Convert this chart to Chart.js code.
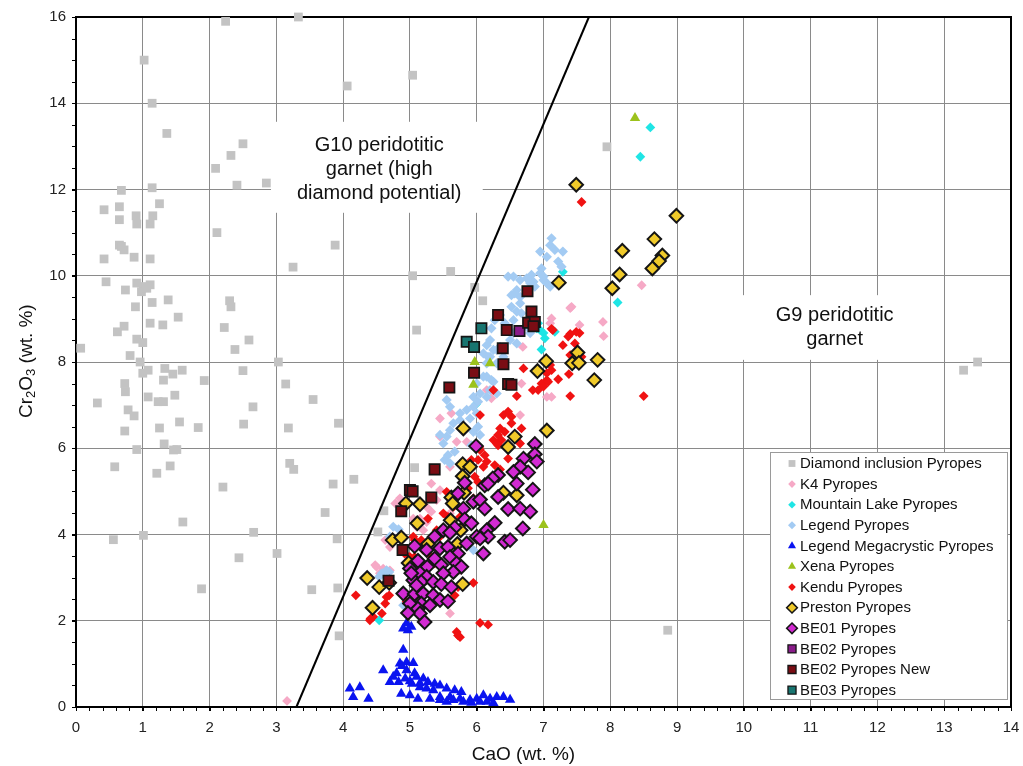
<!DOCTYPE html>
<html><head><meta charset="utf-8">
<script src="https://cdn.jsdelivr.net/npm/chart.js@4.4.0/dist/chart.umd.min.js"></script>
<style>html,body{margin:0;padding:0;background:#fff}canvas{display:block}</style>
</head><body>
<canvas id="c" width="1023" height="766"></canvas>
<script>
// ---------------- DATA (CaO wt.%, Cr2O3 wt.%) ----------------
const xTickValues = [0,1,2,3,4,5,6,7,8,9,10,11,12,13,14];
const yTickValues = [0,2,4,6,8,10,12,14,16];
const xTitle = 'CaO (wt. %)';
const seriesLabels = ['Diamond inclusion Pyropes','K4 Pyropes','Mountain Lake Pyropes','Legend Pyropes',
  'Legend Megacrystic Pyropes','Xena Pyropes','Kendu Pyropes','Preston Pyropes','BE01 Pyropes',
  'BE02 Pyropes','BE02 Pyropes New','BE03 Pyropes'];
const g10Text = ['G10 peridotitic','garnet (high','diamond potential)'];
const g9Text = ['G9 peridotitic','garnet'];

const diamondPts = [[2.24,15.9],[3.33,16.0],[1.02,15.0],[1.14,14.0],[1.36,13.3],[2.50,13.06],[2.32,12.79],[2.09,12.49],
[2.41,12.1],[2.85,12.15],[0.68,11.98],[1.14,12.04],[1.25,11.67],[0.42,11.53],[0.65,11.6],[0.65,11.3],[0.90,11.39],
[0.91,11.2],[1.11,11.2],[1.15,11.39],[2.11,11.0],[3.88,10.71],[0.65,10.71],[0.68,10.68],[0.72,10.6],[0.42,10.39],
[0.87,10.43],[1.11,10.39],[3.25,10.2],[0.45,9.86],[0.74,9.67],[0.91,9.83],[1.01,9.75],[1.11,9.79],[0.98,9.63],
[1.06,9.71],[1.14,9.38],[1.38,9.44],[0.89,9.28],[1.53,9.04],[1.11,8.9],[1.30,8.86],[0.72,8.83],[0.62,8.70],
[0.07,8.32],[0.91,8.53],[1.00,8.45],[0.81,8.15],[0.96,8.0],[1.00,7.74],[1.08,7.81],[1.33,7.85],[1.45,7.72],
[1.59,7.81],[1.31,7.58],[0.73,7.5],[0.74,7.31],[1.08,7.19],[1.23,7.08],[1.31,7.08],[1.48,7.23],[0.32,7.05],
[0.78,6.89],[0.87,6.75],[0.73,6.4],[1.25,6.47],[1.55,6.61],[1.83,6.48],[1.92,7.57],[1.32,6.1],[1.46,5.96],
[1.51,5.97],[0.91,5.97],[0.58,5.57],[1.21,5.42],[1.41,5.59],[2.30,9.42],[2.32,9.28],[2.22,8.8],[2.38,8.29],
[2.59,8.51],[3.03,8.0],[2.50,7.8],[3.14,7.49],[3.55,7.13],[2.65,6.96],[2.51,6.56],[3.18,6.47],[3.93,6.58],
[3.20,5.65],[3.26,5.51],[2.20,5.1],[3.85,5.17],[0.56,3.88],[1.01,3.98],[1.60,4.29],[2.66,4.05],[2.44,3.46],
[3.01,3.56],[1.88,2.74],[3.53,2.72],[3.92,2.76],[3.73,4.51],[3.91,3.90],[3.94,1.65],[4.06,14.4],[5.04,14.65],
[4.16,5.28],[4.61,4.55],[4.52,4.06],[5.07,5.55],[5.04,10.0],[5.61,10.1],[5.97,9.73],[6.09,9.42],[5.10,8.74],
[7.95,12.99],[8.86,1.78],[13.29,7.81],[13.50,8.0]];

const k4Pts = [[3.16,0.14],[8.47,9.78],[7.89,8.93],[7.90,8.60],[7.42,9.28],[7.12,9.01],[7.10,8.90],[7.54,8.86],
[6.69,8.35],[7.05,7.19],[7.40,9.25],[6.67,7.50],[7.12,7.19],[6.15,7.35],[6.22,7.16],[6.65,6.77],[5.45,6.69],
[5.62,6.81],[5.45,6.27],[5.70,6.15],[5.85,6.15],[5.60,5.57],[5.32,5.18],[5.45,5.03],[5.40,4.80],[5.25,4.64],
[5.32,4.53],[5.15,4.37],[5.25,4.29],[5.05,4.37],[5.60,4.49],[4.78,4.72],[4.85,4.84],[5.10,4.18],[5.20,4.10],
[4.63,3.87],[4.70,3.71],[4.48,3.29],[4.60,3.21],[5.75,3.17],[5.60,2.17],[4.50,3.25],[4.70,3.17],[4.55,3.10]];

const mountainLakePts = [[8.60,13.44],[8.45,12.76],[8.11,9.38],[7.29,10.09],[6.95,8.74],[7.00,8.67],[6.90,8.78],
[6.97,8.29],[5.99,7.02],[7.17,8.70],[4.54,2.01],[6.80,8.97],[6.92,8.90],[7.02,8.55]];

const legendPts = [[7.12,10.87],[7.10,10.71],[7.17,10.60],[7.05,10.44],[6.95,10.56],[7.29,10.56],[7.22,10.33],
[7.27,10.21],[6.97,10.17],[6.95,10.06],[7.00,9.90],[7.05,9.83],[6.82,10.02],[6.75,9.94],[6.80,9.83],[6.87,9.75],
[6.65,9.90],[6.55,9.98],[6.47,9.98],[6.60,9.67],[6.65,9.51],[6.52,9.55],[7.10,9.75],[6.52,9.28],[6.60,9.17],
[6.67,9.13],[6.55,8.97],[6.35,9.09],[6.42,8.90],[6.27,8.97],[6.75,8.82],[6.80,8.67],[6.55,8.67],[6.50,8.51],
[6.60,8.43],[6.35,8.35],[6.25,8.28],[6.40,8.12],[6.20,8.51],[6.17,8.12],[6.10,8.20],[6.22,7.58],[6.10,7.66],
[6.85,9.86],[7.00,9.98],[6.57,9.59],[6.65,9.36],[6.22,8.78],[6.15,8.39],[6.30,8.28],[6.20,8.12],[6.30,7.97],
[6.15,7.97],[6.15,7.66],[6.25,7.54],[6.20,7.35],[6.30,7.27],[6.15,7.19],[6.00,7.50],[6.05,7.27],[5.95,7.19],
[6.02,7.08],[5.95,6.96],[5.85,6.89],[6.00,6.81],[5.75,6.81],[5.65,6.58],[5.60,6.42],[5.75,6.65],[5.55,6.27],
[5.45,6.31],[5.50,6.11],[6.02,6.50],[5.95,6.38],[6.05,6.31],[5.90,6.69],[5.92,6.07],[5.57,5.84],[5.67,5.92],
[5.52,5.73],[5.60,5.65],[5.95,3.64],[4.75,4.18],[4.83,4.12],[4.69,3.13],[4.54,3.02],[4.90,2.36],[4.70,3.95],
[4.78,3.87],[4.58,3.10],[4.65,3.17],[5.55,7.12],[5.60,6.96]];

const megacrysticPts = [[4.90,1.33],[4.60,0.85],[4.85,1.01],[4.95,1.04],[5.05,1.02],[4.80,0.78],[4.95,0.85],
[5.07,0.78],[5.20,0.66],[4.70,0.58],[4.83,0.58],[4.93,0.66],[5.03,0.54],[5.27,0.58],[5.37,0.54],[5.45,0.50],
[5.15,0.46],[5.25,0.43],[5.35,0.39],[5.55,0.43],[5.67,0.39],[5.77,0.35],[4.87,0.31],[5.00,0.27],[5.12,0.19],
[5.30,0.19],[5.45,0.23],[5.60,0.23],[5.75,0.19],[5.90,0.16],[6.00,0.19],[6.10,0.27],[6.20,0.19],[6.30,0.23],
[6.40,0.23],[6.50,0.17],[4.10,0.43],[4.25,0.46],[4.15,0.23],[4.38,0.19],[5.45,0.16],[5.55,0.12],[5.65,0.16],
[5.80,0.12],[5.92,0.10],[6.05,0.12],[6.15,0.12],[6.25,0.09],[4.95,1.94],[5.02,1.86],[4.90,1.82],[4.97,1.78],
[4.88,0.95],[5.10,0.70],[4.75,0.70],[5.00,0.60],[5.15,0.55]];

const xenaPts = [[8.37,13.66],[5.97,8.0],[6.20,7.97],[5.95,7.47],[7.00,4.22]];

const kenduPts = [[7.57,11.71],[7.12,8.77],[7.40,8.65],[7.49,8.70],[7.54,8.67],[7.37,8.59],[7.29,8.39],[7.47,8.43],
[7.40,8.16],[7.57,8.12],[6.70,7.85],[7.12,7.81],[7.10,7.93],[7.22,7.60],[7.38,7.72],[6.84,7.35],[6.97,7.50],
[7.05,7.58],[6.25,7.35],[6.60,7.21],[7.40,7.21],[8.50,7.21],[7.14,8.74],[7.05,7.74],[7.07,7.54],[7.00,7.43],
[6.92,7.35],[6.47,6.85],[6.52,6.73],[6.40,6.77],[6.05,6.77],[6.67,6.46],[6.35,6.46],[6.42,6.38],[6.32,6.31],
[6.37,6.19],[6.52,6.58],[6.25,6.19],[6.30,6.11],[6.04,6.03],[6.65,6.11],[6.05,5.96],[6.12,5.84],[6.02,5.73],
[6.15,5.69],[6.10,5.57],[6.27,5.61],[6.35,5.51],[6.47,5.76],[6.45,6.03],[6.32,6.07],[5.92,5.73],[5.97,5.34],
[6.02,5.22],[5.87,5.07],[5.95,4.84],[5.55,4.99],[5.65,4.64],[5.50,4.49],[5.57,4.41],[5.75,4.41],[5.27,4.37],
[5.45,3.95],[5.40,4.10],[5.05,3.95],[5.17,3.87],[5.07,3.71],[5.20,3.64],[5.30,3.52],[5.37,3.33],[4.92,3.56],
[5.00,3.48],[5.05,3.29],[5.07,3.13],[5.95,2.88],[5.72,2.78],[5.67,2.59],[4.65,2.55],[4.69,2.59],[4.63,2.40],
[4.58,2.17],[4.45,2.09],[4.41,2.05],[4.19,2.59],[5.07,2.55],[4.95,2.44],[6.05,1.95],[6.17,1.91],[5.70,1.74],
[5.75,1.62],[5.72,1.66],[4.40,2.01],[5.07,3.87],[5.07,3.48]];

const prestonPts = [[7.49,12.11],[8.99,11.39],[8.66,10.85],[8.18,10.58],[8.78,10.47],[8.73,10.34],[8.63,10.17],
[8.14,10.03],[8.03,9.71],[7.23,9.84],[7.51,8.22],[7.43,7.97],[7.53,7.98],[7.81,8.05],[7.76,7.58],[7.04,8.02],
[6.91,7.79],[5.80,6.46],[6.57,6.27],[7.05,6.41],[6.47,6.03],[5.79,5.63],[5.90,5.57],[5.79,5.35],[4.94,4.72],
[5.15,4.70],[5.62,4.86],[5.81,4.97],[5.64,4.72],[6.40,4.97],[6.60,4.91],[5.11,4.26],[5.61,4.33],[5.76,4.10],
[4.74,3.87],[4.87,3.93],[5.27,3.78],[5.71,3.78],[4.98,3.34],[4.36,2.99],[4.54,2.78],[4.69,2.88],[5.79,2.85],
[4.44,2.30]];

const be01Pts = [[5.99,6.05],[6.87,6.10],[6.87,5.86],[6.70,5.76],[6.90,5.69],[6.65,5.57],[6.77,5.44],[6.55,5.45],
[6.32,5.38],[6.24,5.30],[5.82,5.20],[6.12,5.14],[6.17,5.18],[6.60,5.18],[6.84,5.04],[5.72,4.95],[6.32,4.87],
[5.95,4.76],[6.05,4.81],[6.12,4.60],[5.80,4.60],[6.47,4.59],[6.65,4.60],[6.80,4.53],[5.82,4.35],[5.92,4.26],
[6.27,4.27],[5.67,4.16],[6.69,4.14],[6.15,4.10],[5.50,4.10],[5.60,4.04],[5.37,3.95],[6.00,3.95],[6.17,3.95],
[5.45,3.68],[5.57,3.71],[5.85,3.79],[6.05,3.91],[6.42,3.83],[6.50,3.87],[5.07,3.73],[5.25,3.64],[5.72,3.56],
[6.10,3.56],[5.60,3.48],[5.37,3.44],[5.12,3.39],[5.70,3.33],[5.77,3.25],[5.47,3.29],[5.26,3.25],[5.00,3.21],
[5.65,3.13],[5.15,3.11],[5.25,3.02],[5.50,3.10],[5.05,2.94],[5.17,2.90],[5.35,2.90],[5.47,2.85],[5.62,2.78],
[4.90,2.63],[5.07,2.62],[5.20,2.63],[5.35,2.59],[5.45,2.48],[5.17,2.40],[5.30,2.36],[5.57,2.45],[5.00,2.40],
[5.12,2.28],[5.15,2.17],[4.97,2.18],[5.22,1.97],[5.02,3.10],[5.10,2.82]];

const be02Pts = [[6.64,8.72]];

const be02NewPts = [[6.76,9.64],[6.32,9.09],[6.82,9.17],[6.77,8.91],[6.87,8.93],[6.85,8.83],[6.45,8.74],[6.39,8.32],
[6.40,7.95],[5.96,7.75],[6.47,7.49],[6.52,7.47],[5.59,7.41],[5.37,5.51],[5.00,5.03],[5.32,4.86],[4.87,4.54],
[4.89,3.64],[4.68,2.93],[5.04,5.00]];

const be03Pts = [[6.07,8.78],[5.85,8.47],[5.96,8.35]];

// G10 / G9 boundary line
const lineCaO = [3.30, 7.68];
const lineCr = [0, 16];

// ---------------- STYLES ----------------
const FONT = '"Liberation Sans", Arial, Helvetica, sans-serif';
const seriesPts = [diamondPts,k4Pts,mountainLakePts,legendPts,megacrysticPts,xenaPts,kenduPts,prestonPts,be01Pts,be02Pts,be02NewPts,be03Pts];
const styles = [
  {ps:'rect', r:6.2, bg:'#c3c3c3', bc:'#c3c3c3', bw:0},
  {ps:'rectRot', r:4.9, bg:'#f6a9c6', bc:'#f6a9c6', bw:0},
  {ps:'rectRot', r:4.9, bg:'#1fe5e5', bc:'#1fe5e5', bw:0},
  {ps:'rectRot', r:5.1, bg:'#a3cbf3', bc:'#a3cbf3', bw:0},
  {ps:'triangle', r:6.0, bg:'#0a14f0', bc:'#0a14f0', bw:0},
  {ps:'triangle', r:6.0, bg:'#9cc21c', bc:'#9cc21c', bw:0},
  {ps:'rectRot', r:4.9, bg:'#f01212', bc:'#f01212', bw:0},
  {ps:'rectRot', r:6.8, bg:'#f0ca2a', bc:'#151515', bw:2},
  {ps:'rectRot', r:6.8, bg:'#d22ad2', bc:'#151515', bw:2},
  {ps:'rect', r:7.3, bg:'#8a1c8a', bc:'#151515', bw:1.7},
  {ps:'rect', r:7.3, bg:'#7a0d14', bc:'#151515', bw:1.7},
  {ps:'rect', r:7.3, bg:'#187570', bc:'#151515', bw:1.7}
];

const datasets = seriesPts.map((pts,i)=>({
  label: seriesLabels[i],
  data: pts.map(p=>({x:p[0], y:p[1]})),
  pointStyle: styles[i].ps, pointRadius: styles[i].r, pointHoverRadius: styles[i].r,
  backgroundColor: styles[i].bg, borderColor: styles[i].bc, borderWidth: styles[i].bw,
  pointBorderWidth: styles[i].bw, order: 20 - i, clip: false, showLine: false
}));
datasets.push({
  label: 'G10/G9 boundary',
  data: lineCaO.map((v,i)=>({x:v, y:lineCr[i]})),
  showLine: true, borderColor:'#000', borderWidth:2, pointRadius:0, order:0, clip:false
});

function drawMarker(ctx, s, x, y, scale){
  const r = s.r*scale;
  ctx.beginPath();
  if (s.ps==='rect'){ const h=Math.SQRT1_2*r; ctx.rect(x-h,y-h,2*h,2*h); }
  else if (s.ps==='rectRot'){ ctx.moveTo(x,y-r); ctx.lineTo(x+r,y); ctx.lineTo(x,y+r); ctx.lineTo(x-r,y); ctx.closePath(); }
  else { const a=2*Math.PI/3; ctx.moveTo(x, y-r); ctx.lineTo(x+Math.sin(a)*r, y-Math.cos(a)*r); ctx.lineTo(x+Math.sin(2*a)*r, y-Math.cos(2*a)*r); ctx.closePath(); }
  ctx.fillStyle=s.bg; ctx.fill();
  if (s.bw>0){ ctx.lineWidth=s.bw*scale; ctx.strokeStyle=s.bc; ctx.stroke(); }
}

const decor = {
  id:'decor',
  beforeDatasetsDraw(chart){
    const {ctx, chartArea:a, scales:{x,y}} = chart;
    ctx.save();
    // minor ticks
    ctx.strokeStyle='#000'; ctx.lineWidth=1;
    ctx.beginPath();
    for (let v=0; v<=14.001; v+=0.2){ const px=Math.round(x.getPixelForValue(v))+0.5; ctx.moveTo(px,a.bottom); ctx.lineTo(px,a.bottom+4); }
    for (let v=0; v<=16.001; v+=0.5){ const py=Math.round(y.getPixelForValue(v))+0.5; ctx.moveTo(a.left,py); ctx.lineTo(a.left-4,py); }
    ctx.stroke();
    // annotation boxes (white, hiding the grid) and texts
    ctx.fillStyle='#fff';
    const box=(x0,x1,y0,y1)=>{const X0=x.getPixelForValue(x0),X1=x.getPixelForValue(x1),Y0=y.getPixelForValue(y0),Y1=y.getPixelForValue(y1);ctx.fillRect(X0,Y0,X1-X0,Y1-Y0);};
    box(2.92,6.09,13.57,11.46);
    box(9.72,12.98,9.55,8.05);
    ctx.fillStyle='#111'; ctx.font='20px '+FONT; ctx.textAlign='center'; ctx.textBaseline='middle';
    const g10x=x.getPixelForValue(4.54), g10y=y.getPixelForValue(13.03);
    g10Text.forEach((t,i)=>ctx.fillText(t,g10x,g10y+i*24));
    const g9x=x.getPixelForValue(11.36), g9y=y.getPixelForValue(9.07);
    g9Text.forEach((t,i)=>ctx.fillText(t,g9x,g9y+i*24));
    // frame
    ctx.strokeStyle='#000'; ctx.lineWidth=2;
    ctx.strokeRect(a.left, a.top, a.right-a.left, a.bottom-a.top);
    // axis titles
    ctx.fillStyle='#111'; ctx.font='19px '+FONT; ctx.textAlign='center'; ctx.textBaseline='middle';
    ctx.fillText(xTitle, x.getPixelForValue(6.7), 755);
    // y title with subscripts
    ctx.save();
    ctx.translate(25, y.getPixelForValue(8.02));
    ctx.rotate(-Math.PI/2);
    const parts=[['Cr',0],['2',1],['O',0],['3',1],[' (wt. %)',0]];
    let total=0;
    parts.forEach(p=>{ctx.font=(p[1]?'13px ':'19px ')+FONT; total+=ctx.measureText(p[0]).width;});
    let cx=-total/2; ctx.textAlign='left'; ctx.textBaseline='alphabetic';
    parts.forEach(p=>{ctx.font=(p[1]?'13px ':'19px ')+FONT; ctx.fillText(p[0],cx,p[1]?10:7); cx+=ctx.measureText(p[0]).width;});
    ctx.restore();
    ctx.restore();
  },
  afterDatasetsDraw(chart){
    const {ctx, chartArea:a} = chart;
    ctx.save();
    const w=237, h=247, L=a.right-4-w, T=a.bottom-8-h;
    ctx.fillStyle='#fff'; ctx.fillRect(L,T,w,h);
    ctx.strokeStyle='#9a9a9a'; ctx.lineWidth=1; ctx.strokeRect(L+0.5,T+0.5,w,h);
    ctx.font='15px '+FONT; ctx.textAlign='left'; ctx.textBaseline='middle'; 
    seriesLabels.forEach((lab,i)=>{
      const yy=T+11.5+i*20.6;
      drawMarker(ctx, styles[i], L+22, yy, 0.78);
      ctx.fillStyle='#111'; ctx.fillText(lab, L+30, yy+0.5);
    });
    ctx.restore();
  }
};

Chart.defaults.font.family = FONT;
new Chart(document.getElementById('c'), {
  type:'scatter',
  data:{datasets},
  options:{
    responsive:false, animation:false, devicePixelRatio:1,
    layout:{padding:{left:0,right:12,top:17,bottom:0}},
    plugins:{legend:{display:false}, tooltip:{enabled:false}},
    events:[],
    scales:{
      x:{type:'linear', min:0, max:14,
        afterBuildTicks:s=>{s.ticks=xTickValues.map(v=>({value:v}));},
        ticks:{color:'#222', font:{size:15}, padding:8, maxRotation:0, autoSkip:false},
        grid:{color:'#8a8a8a', lineWidth:1, tickLength:4, tickColor:'#000'},
        border:{display:false},
        afterFit:s=>{s.height=59; s.paddingRight=0; s.paddingLeft=0;}},
      y:{type:'linear', min:0, max:16,
        afterBuildTicks:s=>{s.ticks=yTickValues.map(v=>({value:v}));},
        ticks:{color:'#222', font:{size:15}, padding:6, autoSkip:false},
        grid:{color:'#8a8a8a', lineWidth:1, tickLength:4, tickColor:'#000'},
        border:{display:false},
        afterFit:s=>{s.width=76; s.paddingTop=0; s.paddingBottom=0;}}
    }
  },
  plugins:[decor]
});
</script>
</body></html>
